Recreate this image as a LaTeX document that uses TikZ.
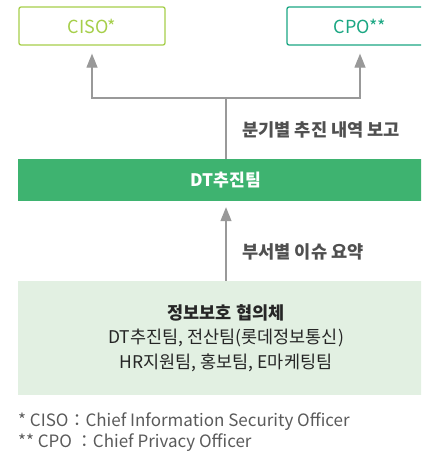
\documentclass[tikz,border=0pt]{standalone}
\usepackage{fontspec}
\setmainfont{Noto Sans CJK KR}
\usetikzlibrary{arrows.meta}
\definecolor{lime}{HTML}{A6CF4A}
\definecolor{teal2}{HTML}{1BA783}
\definecolor{dtgreen}{HTML}{3EB370}
\definecolor{palegreen}{HTML}{E2F0E2}
\definecolor{linegray}{HTML}{999999}
\definecolor{txtgray}{HTML}{505050}
\definecolor{notegray}{HTML}{5A5A5A}
\tikzset{
  topbox/.style={draw, line width=1.3pt, rounded corners=2pt, minimum width=146pt, minimum height=38pt, inner sep=0pt, font=\fontsize{18}{21}\selectfont},
  conn/.style={draw=linegray, line width=1.2pt},
  arr/.style={conn, -{Triangle[width=11pt,length=14pt]}, color=linegray},
  lbl/.style={anchor=west, text=txtgray, font=\bfseries\fontsize{17.6}{20}\selectfont, inner sep=0pt},
  note/.style={anchor=west, text=notegray, font=\fontsize{17}{20}\selectfont, inner sep=0pt}
}
\begin{document}
\begin{tikzpicture}[x=1pt,y=-1pt]
\clip (0,0) rectangle (421,460);
\fill[white] (0,0) rectangle (421,460);
\node[topbox, draw=lime, text=lime] (ciso) at (92,26) {CISO*};
\node[topbox, draw=teal2, text=teal2] (cpo) at (360,26) {CPO**};
\node[fill=dtgreen, minimum width=416pt, minimum height=42pt, inner sep=0pt, text=white, font=\bfseries\fontsize{17.2}{20}\selectfont] (dt) at (226,180) {DT추진팀};
\node[fill=palegreen, minimum width=416pt, minimum height=114pt, inner sep=0pt, align=center, text=black!85, font=\fontsize{17.5}{24.5}\selectfont] (council) at (226,338) {{\bfseries 정보보호 협의체}\\DT추진팀, 전산팀(롯데정보통신)\\HR지원팀, 홍보팀, E마케팅팀};
\coordinate (j) at (226,98);
\draw[conn] (dt.north) -- (j);
\draw[arr, shorten >=8pt] (j) -| (ciso.south);
\draw[arr, shorten >=8pt] (j) -| (cpo.south);
\draw[arr, shorten >=6pt] (council.north) -- (dt.south);
\node[lbl] (l1) at (242,130) {분기별 추진 내역 보고};
\node[lbl] (l2) at (242,252) {부서별 이슈 요약};
\node[note] (n1) at (18,422) {* CISO：Chief Information Security Officer};
\node[note] (n2) at (18,443) {** CPO ：Chief Privacy Officer};
\end{tikzpicture}
\end{document}
